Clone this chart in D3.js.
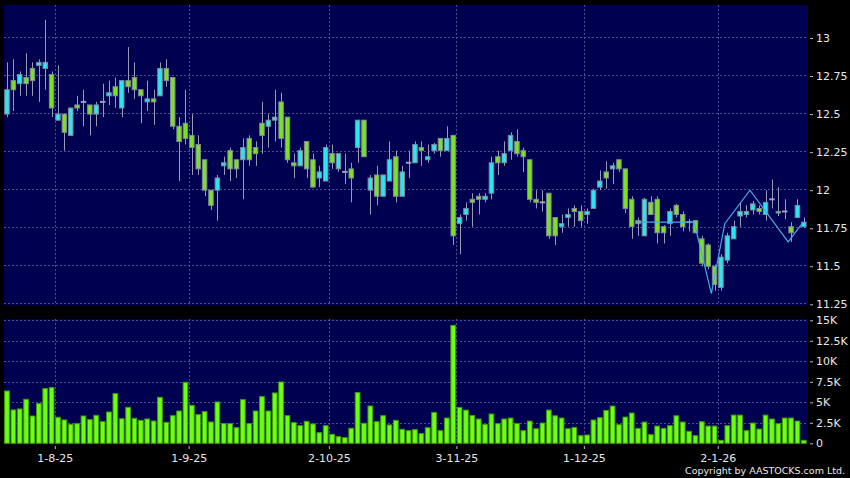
<!DOCTYPE html>
<html>
<head>
<meta charset="utf-8">
<script src="https://cdn.jsdelivr.net/npm/d3@7"></script>
<style>
  body { margin: 0; background: #000; }
  svg { display: block; font-family: "DejaVu Sans", Verdana, sans-serif; }
</style>
</head>
<body>
<div id="chart"></div>
<script>
// daily candles, 22-7-25 .. 21-1-26 (index = trading day)
const opens = [12.50,12.72,12.70,12.74,12.80,12.82,12.80,12.76,12.46,12.50,
  12.36,12.56,12.58,12.56,12.50,12.58,12.62,12.68,12.54,12.72,
  12.74,12.66,12.58,12.60,12.62,12.80,12.74,12.42,12.44,12.36,
  12.30,12.20,12.00,12.00,12.16,12.26,12.20,12.20,12.34,12.28,
  12.44,12.42,12.46,12.58,12.48,12.18,12.16,12.32,12.20,12.08,
  12.06,12.24,12.14,12.12,12.14,12.28,12.46,12.00,12.10,11.96,
  12.06,12.22,11.96,12.18,12.18,12.28,12.20,12.26,12.34,12.26,
  12.36,11.78,11.84,11.94,11.96,11.94,11.98,12.22,12.18,12.26,
  12.32,12.26,12.20,11.94,11.92,11.98,11.82,11.76,11.82,11.88,
  11.86,11.84,11.88,12.02,12.12,12.14,12.20,12.14,11.94,11.80,
  11.70,11.92,11.94,11.76,11.78,11.90,11.84,11.79,11.80,11.68,
  11.64,11.50,11.36,11.54,11.68,11.83,11.84,11.87,11.88,11.84,
  11.94,11.85,11.86,11.76,11.82,11.76];
const highs = [12.84,12.86,12.78,12.90,12.84,12.86,13.12,12.78,12.82,12.50,
  12.54,12.62,12.66,12.56,12.58,12.70,12.72,12.74,12.72,12.94,
  12.84,12.66,12.72,12.66,12.84,12.86,12.74,12.48,12.66,12.50,
  12.36,12.20,12.00,12.10,12.22,12.28,12.20,12.34,12.36,12.32,
  12.58,12.50,12.66,12.64,12.48,12.24,12.28,12.32,12.24,12.16,
  12.30,12.30,12.24,12.24,12.18,12.46,12.46,12.10,12.16,12.10,
  12.32,12.26,12.16,12.26,12.32,12.32,12.30,12.31,12.34,12.42,
  12.36,11.84,11.92,11.98,11.98,11.98,12.22,12.26,12.32,12.38,
  12.40,12.28,12.20,12.00,12.00,11.98,11.82,11.84,11.88,11.90,
  11.90,11.88,12.01,12.13,12.19,12.18,12.20,12.14,11.96,11.82,
  11.95,11.96,11.96,11.77,11.88,11.91,11.86,11.81,11.80,11.70,
  11.65,11.51,11.58,11.72,11.80,11.92,11.90,11.93,11.90,12.00,
  12.07,12.02,11.94,11.79,11.94,11.82];
const lows = [12.48,12.52,12.62,12.62,12.62,12.58,12.66,12.48,12.46,12.26,
  12.36,12.52,12.42,12.36,12.42,12.48,12.56,12.54,12.48,12.64,
  12.60,12.44,12.52,12.43,12.62,12.68,12.40,12.06,12.30,12.10,
  12.10,11.96,11.87,11.80,12.10,12.06,12.08,11.94,12.16,12.16,
  12.24,12.28,12.32,12.28,12.18,12.08,12.16,12.08,12.02,12.02,
  12.06,12.14,12.12,12.04,11.92,12.18,12.22,11.84,11.90,11.96,
  12.06,11.92,11.96,12.08,12.18,12.16,12.18,12.24,12.22,12.26,
  11.64,11.58,11.80,11.76,11.84,11.92,11.94,12.10,12.16,12.20,
  12.22,12.12,11.92,11.88,11.86,11.68,11.64,11.72,11.76,11.76,
  11.76,11.78,11.88,12.00,12.01,12.04,12.12,11.85,11.68,11.70,
  11.70,11.84,11.65,11.65,11.70,11.82,11.73,11.73,11.72,11.50,
  11.48,11.34,11.34,11.52,11.68,11.76,11.82,11.84,11.84,11.80,
  11.88,11.83,11.81,11.66,11.82,11.75];
const closes = [12.66,12.66,12.76,12.70,12.72,12.84,12.84,12.54,12.50,12.38,
  12.54,12.54,12.58,12.50,12.56,12.58,12.64,12.62,12.72,12.68,
  12.66,12.62,12.60,12.58,12.80,12.72,12.42,12.32,12.34,12.28,
  12.14,12.00,11.90,12.08,12.18,12.14,12.14,12.28,12.20,12.24,
  12.36,12.46,12.48,12.34,12.20,12.16,12.26,12.14,12.02,12.12,
  12.28,12.18,12.24,12.12,12.08,12.46,12.22,12.08,11.96,12.10,
  12.20,11.96,12.12,12.18,12.30,12.26,12.22,12.30,12.26,12.34,
  11.70,11.82,11.88,11.92,11.94,11.96,12.18,12.18,12.24,12.36,
  12.24,12.22,11.94,11.92,11.92,11.70,11.70,11.78,11.84,11.86,
  11.80,11.86,12.00,12.06,12.08,12.16,12.14,11.88,11.76,11.78,
  11.94,11.84,11.72,11.72,11.86,11.84,11.76,11.79,11.72,11.52,
  11.50,11.38,11.56,11.70,11.76,11.86,11.86,11.91,11.86,11.92,
  11.94,11.86,11.86,11.72,11.90,11.79];
const volumes = [6380,4070,4190,5370,3330,4840,6670,6790,3170,2850,
  2320,2400,3330,2890,3410,2640,3820,6060,3000,4390,
  3050,2800,2970,2720,5610,2560,3370,3940,7440,4630,
  3500,3860,2600,5040,2400,2400,1910,5330,2400,3940,
  5690,3940,6140,7480,3370,2520,2150,2680,2360,1300,
  2150,1100,810,690,1830,6180,2440,4550,2640,3370,
  2240,2800,1710,1540,1670,1180,1900,3770,1540,3080,
  14380,4380,4050,3400,2960,2310,3570,2390,2960,3080,
  2430,1540,2710,1780,2470,4050,3360,3080,1780,1940,
  930,1010,2840,3120,4010,4540,2270,3200,3690,1820,
  2590,1050,2100,1820,2150,3360,2590,1460,930,2630,
  2100,2100,360,2150,3440,3440,1540,2470,1740,3440,
  2960,2390,3080,3080,2710,360];

// month ticks (index of first trading day of the month)
const tickIdx = [8, 29, 51, 71, 91, 112];
const tickLabels = ["1-8-25", "1-9-25", "2-10-25", "3-11-25", "1-12-25", "2-1-26"];

const priceTicks = [11.25, 11.5, 11.75, 12, 12.25, 12.5, 12.75, 13];
const volTicks = [0, 2500, 5000, 7500, 10000, 12500, 15000];

// overlay line (index position, price)
const lineIdx = [98.8, 107.8, 110.5, 112.6, 116.55, 122.55, 124.9];
const lineVals = [11.79, 11.79, 11.32, 11.78, 12.0, 11.66, 11.79];

const width = 850, height = 478;
const pane = {left: 4, right: 808, top: 5, bottom: 305.5};
const vpane = {top: 319, bottom: 443.5};

const svg = d3.select("#chart")
              .append("svg")
              .attr("width", width)
              .attr("height", height);

svg.append("rect").attr("width", width).attr("height", height).attr("fill", "#000");

const n = opens.length;
const x = d3.scaleBand()
            .domain(d3.range(n))
            .range([3.8, 807])
            .paddingInner(0.3)
            .paddingOuter(0.15);
const xv = d3.scaleBand()
             .domain(d3.range(n))
             .range([3.8, 807])
             .paddingInner(0.1)
             .paddingOuter(0.05);
const xc = d3.scaleLinear()
             .domain([0, n - 1])
             .range([x(0) + x.bandwidth() / 2, x(n - 1) + x.bandwidth() / 2]);

const y = d3.scaleLinear().domain([11.25, 13]).range([304.3, 38]);
const yv = d3.scaleLinear().domain([0, 15000]).range([443.3, 320.3]);

// panels
svg.append("rect")
   .attr("x", pane.left).attr("y", pane.top)
   .attr("width", pane.right - pane.left).attr("height", pane.bottom - pane.top)
   .attr("fill", "#000050");
svg.append("rect")
   .attr("x", pane.left).attr("y", vpane.top)
   .attr("width", pane.right - pane.left).attr("height", vpane.bottom - vpane.top)
   .attr("fill", "#000050");

const gridColor = "#4c4c90";

// grid
const grid = svg.append("g")
                .attr("stroke", gridColor)
                .attr("stroke-width", 1)
                .attr("stroke-dasharray", "2,2");
grid.selectAll(".hp")
    .data(priceTicks)
    .join("line")
    .attr("x1", pane.left).attr("x2", pane.right)
    .attr("y1", d => Math.round(y(d)) - 0.5).attr("y2", d => Math.round(y(d)) - 0.5);
grid.selectAll(".hv")
    .data(volTicks.slice(1))
    .join("line")
    .attr("x1", pane.left).attr("x2", pane.right)
    .attr("y1", d => Math.round(yv(d)) + 0.5).attr("y2", d => Math.round(yv(d)) + 0.5);
grid.selectAll(".vp")
    .data(tickIdx)
    .join("line")
    .attr("x1", d => Math.round(x.step() * d + 3.8) + 0.5)
    .attr("x2", d => Math.round(x.step() * d + 3.8) + 0.5)
    .attr("y1", pane.top).attr("y2", pane.bottom);
grid.selectAll(".vv")
    .data(tickIdx)
    .join("line")
    .attr("x1", d => Math.round(x.step() * d + 3.8) + 0.5)
    .attr("x2", d => Math.round(x.step() * d + 3.8) + 0.5)
    .attr("y1", vpane.top).attr("y2", vpane.bottom);

const data = d3.range(n).map(i => ({
    i: i, o: opens[i], h: highs[i], l: lows[i], c: closes[i], v: volumes[i]
}));

const cx = d => x(d.i) + x.bandwidth() / 2;

// wicks
svg.append("g")
   .selectAll("line")
   .data(data)
   .join("line")
   .attr("x1", d => Math.round(cx(d)) + 0.5)
   .attr("x2", d => Math.round(cx(d)) + 0.5)
   .attr("y1", d => y(d.h))
   .attr("y2", d => y(d.l))
   .attr("stroke", "#9a9ab6")
   .attr("stroke-width", 1);

// bodies
svg.append("g")
   .selectAll("rect")
   .data(data.filter(d => d.o !== d.c))
   .join("rect")
   .attr("x", d => x(d.i))
   .attr("width", x.bandwidth())
   .attr("y", d => y(Math.max(d.o, d.c)))
   .attr("height", d => Math.max(1, Math.abs(y(d.o) - y(d.c))))
   .attr("fill", d => d.c > d.o ? "#2ee4f2" : "#7ee026")
   .attr("stroke", "#7d8b98")
   .attr("stroke-width", 1);

// doji
svg.append("g")
   .selectAll("line")
   .data(data.filter(d => d.o === d.c))
   .join("line")
   .attr("x1", d => x(d.i) - 0.5)
   .attr("x2", d => x(d.i) + x.bandwidth() + 0.5)
   .attr("y1", d => y(d.c))
   .attr("y2", d => y(d.c))
   .attr("stroke", "#a0a0b8")
   .attr("stroke-width", 2);

// overlay line
svg.append("path")
   .datum(d3.zip(lineIdx, lineVals))
   .attr("fill", "none")
   .attr("stroke", "#4aa6e6")
   .attr("stroke-width", 1.2)
   .attr("d", d3.line().x(d => xc(d[0])).y(d => y(d[1])));

// volume
svg.append("g")
   .selectAll("rect")
   .data(data)
   .join("rect")
   .attr("x", d => xv(d.i) + 0.5)
   .attr("width", xv.bandwidth() - 1)
   .attr("y", d => yv(d.v))
   .attr("height", d => yv(0) - yv(d.v))
   .attr("fill", "#6cff12")
   .attr("stroke", "#3f9a0a")
   .attr("stroke-width", 1);

// axes
const fmtVol = d => d === 0 ? "0" : (d / 1000) + "K";

const axP = svg.append("g")
               .attr("transform", "translate(810,0)")
               .call(d3.axisRight(y).tickValues(priceTicks).tickFormat(d => String(d)).tickSize(3).tickPadding(3));
const axV = svg.append("g")
               .attr("transform", "translate(810,0)")
               .call(d3.axisRight(yv).tickValues(volTicks).tickFormat(fmtVol).tickSize(3).tickPadding(3));

const xTickScale = d3.scaleLinear().domain([0, n]).range([3.8, 807]);
const axX = svg.append("g")
               .attr("transform", "translate(0,446)")
               .call(d3.axisBottom(xTickScale).tickValues(tickIdx)
                       .tickFormat((d, k) => tickLabels[k]).tickSize(3).tickPadding(5));

[axP, axV, axX].forEach(g => {
    g.select(".domain").remove();
    g.selectAll("line").attr("stroke", "#b8b8b8");
    g.selectAll("text").attr("fill", "#e8e8e8").style("font-size", "11px")
     .style("font-family", '"DejaVu Sans", Verdana, sans-serif');
});

svg.append("text")
   .attr("x", 845)
   .attr("y", 474)
   .attr("text-anchor", "end")
   .attr("fill", "#e8e8e8")
   .style("font-size", "9.5px")
   .text("Copyright by AASTOCKS.com Ltd.");
</script>
</body>
</html>
